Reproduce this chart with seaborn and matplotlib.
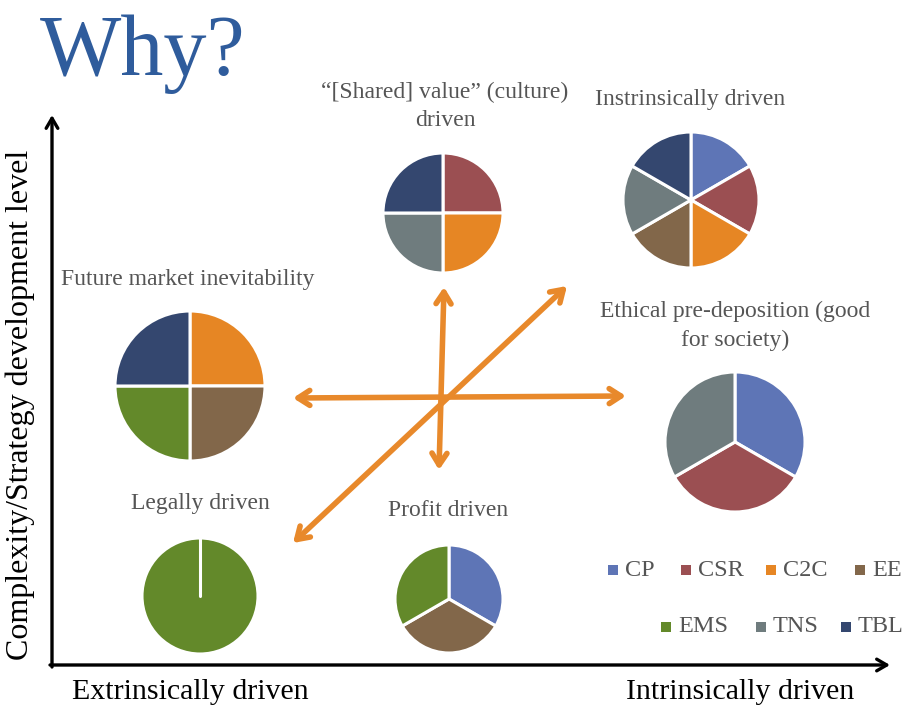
import matplotlib
matplotlib.use("Agg")
import matplotlib.pyplot as plt
import seaborn as sns

# ---------------- data ----------------
categories = ["CP", "CSR", "C2C", "EE", "EMS", "TNS", "TBL"]
category_colors = ["#5E75B6", "#9B4F52", "#E68624", "#82674A", "#63892A", "#6F7C7E", "#34476F"]

shared_labels = ["CSR", "C2C", "TNS", "TBL"]
shared_values = [1, 1, 1, 1]

intrinsic_labels = ["CP", "CSR", "C2C", "EE", "TNS", "TBL"]
intrinsic_values = [1, 1, 1, 1, 1, 1]

future_labels = ["C2C", "EE", "EMS", "TBL"]
future_values = [1, 1, 1, 1]

ethical_labels = ["CP", "CSR", "TNS"]
ethical_values = [1, 1, 1]

legal_labels = ["EMS"]
legal_values = [1]

profit_labels = ["CP", "EE", "EMS"]
profit_values = [1, 1, 1]

title_text = "Why?"
y_axis_label = "Complexity/Strategy development level"
x_left_label = "Extrinsically driven"
x_right_label = "Intrinsically driven"

# ---------------- style ----------------
sns.set_theme(style="white")
plt.rcParams["font.family"] = ["Liberation Serif", "DejaVu Serif"]

W, H = 906, 709
palette = dict(zip(categories, sns.color_palette(category_colors)))
TEXT = "#555555"
ORANGE = "#E8892B"

fig = plt.figure(figsize=(W / 100, H / 100), dpi=100)
ax = fig.add_axes([0, 0, 1, 1])


def Y(y):
    return H - y


def draw_pie(labels, values, cx, cy, r):
    ax.pie(values, colors=[palette[l] for l in labels], center=(cx, Y(cy)),
           radius=r, startangle=90, counterclock=False, frame=True,
           wedgeprops=dict(edgecolor="white", linewidth=2.2))


draw_pie(shared_labels, shared_values, 443, 213, 60)
draw_pie(intrinsic_labels, intrinsic_values, 691, 200, 68)
draw_pie(future_labels, future_values, 190, 386, 75)
draw_pie(ethical_labels, ethical_values, 735, 442, 70)
draw_pie(legal_labels, legal_values, 200, 596, 58)
ax.plot([200, 200], [Y(596), Y(596 - 58)], color="white", lw=2.2, zorder=5)
draw_pie(profit_labels, profit_values, 449, 599, 54)

# ---------------- arrows ----------------
arrow_kw = dict(arrowstyle="<->,head_length=0.7,head_width=0.45", color=ORANGE,
                lw=4.0, capstyle="round", joinstyle="round", shrinkA=0, shrinkB=0)
ax.annotate("", xy=(293, Y(398)), xytext=(626, Y(396)), arrowprops=arrow_kw)
ax.annotate("", xy=(444, Y(287)), xytext=(439, Y(470)), arrowprops=arrow_kw)
ax.annotate("", xy=(293, Y(543)), xytext=(567, Y(286)), arrowprops=arrow_kw)

axis_kw = dict(arrowstyle="->,head_length=0.6,head_width=0.35", color="black",
               lw=2.4, capstyle="round", joinstyle="round", shrinkA=0, shrinkB=0)
ax.annotate("", xy=(52, Y(115)), xytext=(52, Y(667)), arrowprops=axis_kw)
ax.annotate("", xy=(890, Y(665)), xytext=(50, Y(665)), arrowprops=axis_kw)

# ---------------- text ----------------
ax.text(40, Y(75), title_text, fontsize=62, color="#2F5C9C", ha="left", va="baseline")

lab = dict(fontsize=17, color=TEXT, ha="center", va="center")
ax.text(445, Y(92), "\u201c[Shared] value\u201d (culture)", **lab)
ax.text(445, Y(121), "driven", **lab)
ax.text(690, Y(100), "Instrinsically driven", **lab)
ax.text(188, Y(279), "Future market inevitability", **lab)
ax.text(735, Y(311), "Ethical pre-deposition (good", **lab)
ax.text(735, Y(340), "for society)", **lab)
ax.text(200, Y(504), "Legally driven", **lab)
ax.text(448, Y(511), "Profit driven", **lab)

ax.text(20, Y(405), y_axis_label, fontsize=23, color="black", rotation=90,
        ha="center", va="center")
ax.text(190, Y(692), x_left_label, fontsize=21.5, color="black", ha="center", va="center")
ax.text(740, Y(692), x_right_label, fontsize=21.5, color="black", ha="center", va="center")

# ---------------- legend ----------------
legend_pos = {"CP": (613, 570), "CSR": (686, 570), "C2C": (771, 570), "EE": (860, 570),
              "EMS": (666, 627), "TNS": (761, 627), "TBL": (846, 627)}
for cat in categories:
    x, y = legend_pos[cat]
    ax.scatter([x], [Y(y)], marker="s", s=55, color=palette[cat], linewidths=0, zorder=6)
    ax.text(x + 12, Y(y), cat, fontsize=17.5, color=TEXT, ha="left", va="center")

ax.set_xlim(0, W)
ax.set_ylim(0, H)
ax.set_aspect("equal")
ax.axis("off")

fig.savefig("out.png", dpi=100)
